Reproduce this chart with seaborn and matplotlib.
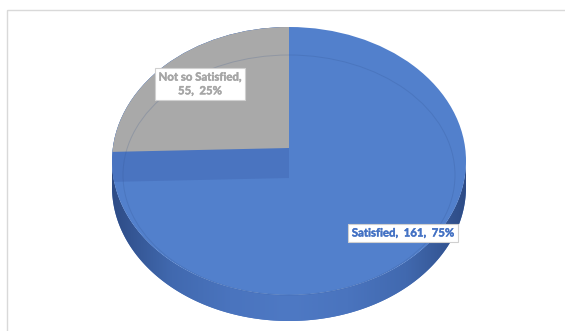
import numpy as np
import matplotlib
matplotlib.use("Agg")
import matplotlib.pyplot as plt
import matplotlib.patheffects as pe
import seaborn as sns
from matplotlib.patches import Ellipse, Polygon, Rectangle
from matplotlib.colors import LinearSegmentedColormap

# data
categories = ["Satisfied", "Not so Satisfied"]
counts = [161, 55]
slice_colors = ["#5280CC", "#A9A9A9"]
label_colors = ["#4472C4", "#A6A6A6"]

sns.set_theme(style="white")
plt.rcParams["font.family"] = ["Lato", "DejaVu Sans"]

fig = plt.figure(figsize=(5.65, 3.31), dpi=100)
ax = fig.add_axes([0, 0, 1, 1])
ax.set_xlim(0, 565)
ax.set_ylim(331, 0)
ax.axis("off")

# chart frame (only top/left edges visible in the crop)
ax.add_patch(Rectangle((7, 10), 600, 400, fill=False, ec="#D9D9D9", lw=1))

# pie geometry (pixels)
cx, cy, rx, ry, depth = 289, 161, 177, 134, 26
apex_y = 148       # apex of back slice
strip = 30         # visible cut face under back slice

total = sum(counts)
fracs = np.array(counts) / total
ends = 90 - 360 * np.cumsum(fracs)
starts = np.concatenate([[90], ends[:-1]])

# side wall (front half), one polygon with a shaded gradient
t = np.radians(np.linspace(180, 360, 200))
xs = cx + rx * np.cos(t)
ys = cy - ry * np.sin(t)
side_pts = list(zip(xs, ys)) + list(zip(xs[::-1], ys[::-1] + depth))
side = Polygon(side_pts, closed=True, fc="#4A74BD", ec="none")
ax.add_patch(side)
side_cmap = LinearSegmentedColormap.from_list(
    "side", ["#2E4C86", "#4169AF", "#4A74BE", "#4E79C4", "#4A74BE", "#4169AF", "#2E4C86"])
grad = np.linspace(0, 1, 256)[None, :]
im = ax.imshow(grad, cmap=side_cmap, extent=(cx - rx, cx + rx, cy + ry + depth, cy),
               aspect="auto", zorder=1)
im.set_clip_path(side)
ax.set_xlim(0, 565)
ax.set_ylim(331, 0)

# top face
top = Ellipse((cx, cy), 2 * rx, 2 * ry, fc=slice_colors[0], ec="none", zorder=2)
ax.add_patch(top)


def wedge_poly(t0, t1, ax_y, R=500):
    tt = np.radians(np.linspace(t0, t1, 60))
    return [(cx, ax_y)] + list(zip(cx + R * np.cos(tt), ax_y - R * (ry / rx) * np.sin(tt)))


# back slice(s): cut face then top
for i in range(1, len(counts)):
    t0, t1 = ends[i] + 360, starts[i] + 360
    face = Polygon(wedge_poly(t0, t1, apex_y + strip), closed=True,
                   fc="#4A74C0", ec="none", zorder=3)
    ax.add_patch(face)
    face.set_clip_path(top)
    w = Polygon(wedge_poly(t0, t1, apex_y), closed=True, fc=slice_colors[i],
                ec="none", zorder=4)
    ax.add_patch(w)
    w.set_clip_path(top)

# bevel line
bevel = Ellipse((cx, 175), 2 * 166, 2 * 120, fill=False, ec="#2F4F8A", lw=0.7,
                alpha=0.2, zorder=5)
ax.add_patch(bevel)

# data labels
pcts = [round(100 * f) for f in fracs]
label_pos = [(403, 233), (200, 84)]
texts = [f"{categories[0]},  {counts[0]},  {pcts[0]}%",
         f"{categories[1]},\n{counts[1]},  {pcts[1]}%"]
for txt, (x, y), c in zip(texts, label_pos, label_colors):
    ax.text(x, y, txt, ha="center", va="center", ma="center", color=c,
            fontsize=8.2, fontweight="bold", linespacing=1.3, zorder=6,
            path_effects=[pe.withStroke(linewidth=0.3, foreground=c)],
            bbox=dict(boxstyle="square,pad=0.3", fc="white", ec="#D0D0D0", lw=0.8))

fig.savefig("out.png", dpi=100)
